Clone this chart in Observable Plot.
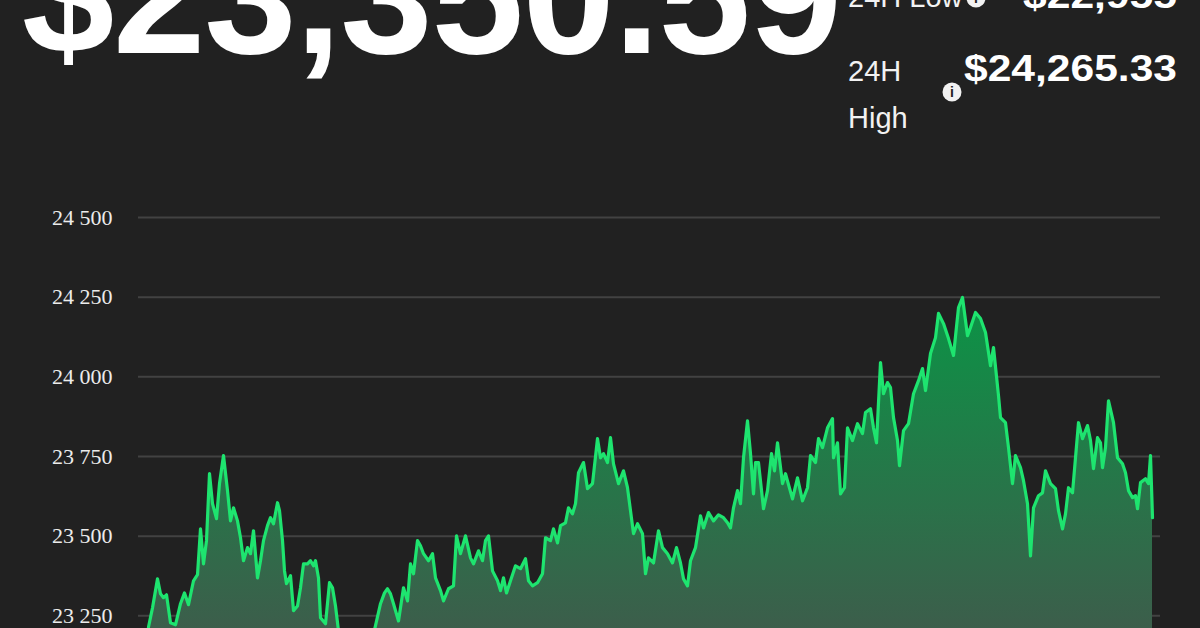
<!DOCTYPE html>
<html><head><meta charset="utf-8">
<script src="https://cdn.jsdelivr.net/npm/d3@7"></script>
<script src="https://cdn.jsdelivr.net/npm/@observablehq/plot@0.6"></script>
<style>
html,body{margin:0;padding:0;background:#212121;overflow:hidden;width:1200px;height:628px}
#header{position:relative;width:1200px;height:190px}
#header svg{position:absolute;left:0;top:0;overflow:visible}
#chart svg{display:block}
</style></head><body>
<div id="header"></div>
<div id="chart"></div>
<script>
// ---- data ----
const priceLabel = "$23,350.59";
const lowLabel = "24H Low";
const lowValue = "$22,955";
const highLabel = ["24H", "High"];
const highValue = "$24,265.33";
const yTicks = [23000, 23250, 23500, 23750, 24000, 24250, 24500];
// sample index across the 24h window (0..1004)
const steps = [0,4,9,12,15,18,22,27,32,36,40,45,49,52,55,58,61,64,68,71,75,79,82,85,89,92,95,99,102,105,109,112,115,119,122,125,129,131,134,136,138,142,145,149,152,155,159,162,165,167,170,172,177,181,184,187,190,194,198,202,207,212,217,222,227,232,236,239,242,245,250,255,259,262,265,269,272,275,280,284,287,292,295,300,305,308,312,317,322,325,330,334,337,340,344,349,352,355,358,362,367,372,377,380,384,389,394,397,402,405,409,412,417,420,424,427,430,435,439,444,449,452,455,459,462,465,470,475,479,482,485,489,494,497,500,505,510,514,519,524,528,532,535,539,542,547,552,555,560,565,570,575,579,582,585,589,592,595,599,602,605,607,610,615,619,623,626,629,634,637,644,649,654,659,662,667,670,674,679,684,685,689,692,696,699,704,709,714,717,722,725,728,732,735,739,742,745,749,751,755,760,765,770,774,777,782,787,790,795,800,805,810,814,819,822,827,832,837,842,845,850,852,857,860,864,867,872,875,879,882,885,890,894,897,902,907,910,914,917,920,924,930,934,939,942,945,949,952,954,957,960,965,969,974,977,980,984,987,989,992,997,1000,1002,1004];
const prices = [23215,23275,23366,23319,23307,23316,23228,23222,23288,23322,23285,23360,23379,23523,23413,23486,23696,23602,23555,23665,23753,23643,23548,23589,23548,23495,23423,23464,23445,23517,23369,23423,23486,23533,23558,23539,23605,23580,23486,23391,23351,23376,23266,23281,23338,23413,23413,23423,23407,23423,23369,23244,23225,23354,23338,23281,23203,23156,23124,23109,23093,23109,23124,23156,23219,23288,23322,23335,23319,23288,23234,23338,23297,23413,23382,23486,23470,23445,23423,23445,23369,23329,23297,23335,23344,23501,23445,23501,23432,23413,23454,23423,23486,23501,23391,23360,23329,23369,23322,23360,23407,23398,23429,23360,23344,23354,23382,23495,23486,23523,23479,23533,23542,23589,23570,23602,23699,23731,23649,23665,23806,23746,23759,23731,23809,23727,23665,23705,23652,23580,23508,23539,23508,23382,23432,23416,23517,23464,23445,23416,23464,23416,23366,23344,23423,23464,23564,23526,23574,23548,23567,23558,23542,23526,23589,23643,23602,23746,23862,23759,23633,23731,23731,23586,23643,23759,23705,23793,23665,23696,23617,23683,23611,23652,23753,23731,23806,23778,23840,23869,23746,23793,23633,23652,23840,23800,23853,23822,23888,23900,23840,23793,24045,23947,23982,23966,23872,23800,23721,23831,23853,23947,23988,24026,23957,24073,24123,24199,24167,24120,24067,24217,24249,24129,24155,24202,24183,24139,24035,24092,23941,23872,23856,23778,23665,23753,23715,23674,23602,23438,23589,23627,23636,23705,23665,23649,23580,23523,23570,23652,23636,23856,23806,23847,23800,23712,23809,23793,23715,23778,23925,23856,23746,23727,23699,23643,23621,23627,23586,23668,23680,23665,23753,23558];

// ---- header (plain text) ----
const hdr = d3.select("#header").append("svg").attr("width", 1200).attr("height", 190);
const sans = "'Liberation Sans', Arial, Helvetica, sans-serif";
hdr.append("text").attr("x", 22).attr("y", 53).attr("fill", "#fff")
  .attr("font-family", sans).attr("font-weight", 700).attr("font-size", 166)
  .attr("textLength", 820).attr("lengthAdjust", "spacing").text(priceLabel);
function label(x, y, t) {
  hdr.append("text").attr("x", x).attr("y", y).attr("fill", "#f2f2f2")
    .attr("font-family", sans).attr("font-size", 29).text(t);
}
function value(y, t, len) {
  hdr.append("text").attr("x", 1177).attr("y", y).attr("fill", "#fff").attr("text-anchor", "end")
    .attr("font-family", sans).attr("font-weight", 700).attr("font-size", 36)
    .attr("textLength", len).attr("lengthAdjust", "spacingAndGlyphs").text(t);
}
function info(cx, cy) {
  hdr.append("circle").attr("cx", cx).attr("cy", cy).attr("r", 9.5).attr("fill", "#f2f2f2");
  hdr.append("text").attr("x", cx).attr("y", cy + 5).attr("text-anchor", "middle").attr("fill", "#212121")
    .attr("font-family", sans).attr("font-weight", 700).attr("font-size", 14).text("i");
}
label(848, 7, lowLabel); info(976, -2); value(8, lowValue, 154);
label(848, 81, highLabel[0]); label(848, 128, highLabel[1]); info(952, 92); value(81, highValue, 213);

// ---- chart ----
const data = steps.map((s, i) => ({step: s, price: prices[i]}));
const fmt = d => d3.format(",")(d).replace(",", " ");
const chart = Plot.plot({
  width: 1200, height: 505,
  marginTop: 27, marginBottom: 0, marginLeft: 138, marginRight: 40,
  style: {background: "transparent", color: "#ececec", fontFamily: "'Liberation Serif', 'DejaVu Serif', serif", fontSize: "22px", overflow: "visible"},
  x: {domain: [0, 1004], axis: null, insetLeft: 10, insetRight: 8},
  y: {domain: [23000, 24500]},
  marks: [
    () => {
      const defs = d3.create("svg:defs");
      const g = defs.append("linearGradient").attr("id", "areaGrad")
        .attr("x1", 0).attr("y1", 0).attr("x2", 0).attr("y2", 1);
      g.append("stop").attr("offset", "0%").attr("stop-color", "#0b9446");
      g.append("stop").attr("offset", "100%").attr("stop-color", "#46534c");
      return defs.node();
    },
    Plot.gridY(yTicks, {stroke: "#424242", strokeOpacity: 1, strokeWidth: 2}),
    Plot.axisY(yTicks, {tickSize: 0, tickPadding: 26, tickFormat: fmt, label: null, fill: "#ececec", fontSize: 22}),
    Plot.areaY(data, {x: "step", y1: 23000, y2: "price", fill: "url(#areaGrad)"}),
    Plot.lineY(data, {x: "step", y: "price", stroke: "#1ee46f", strokeWidth: 3.2, strokeLinejoin: "round"})
  ]
});
document.getElementById("chart").appendChild(chart);
</script>
</body></html>
